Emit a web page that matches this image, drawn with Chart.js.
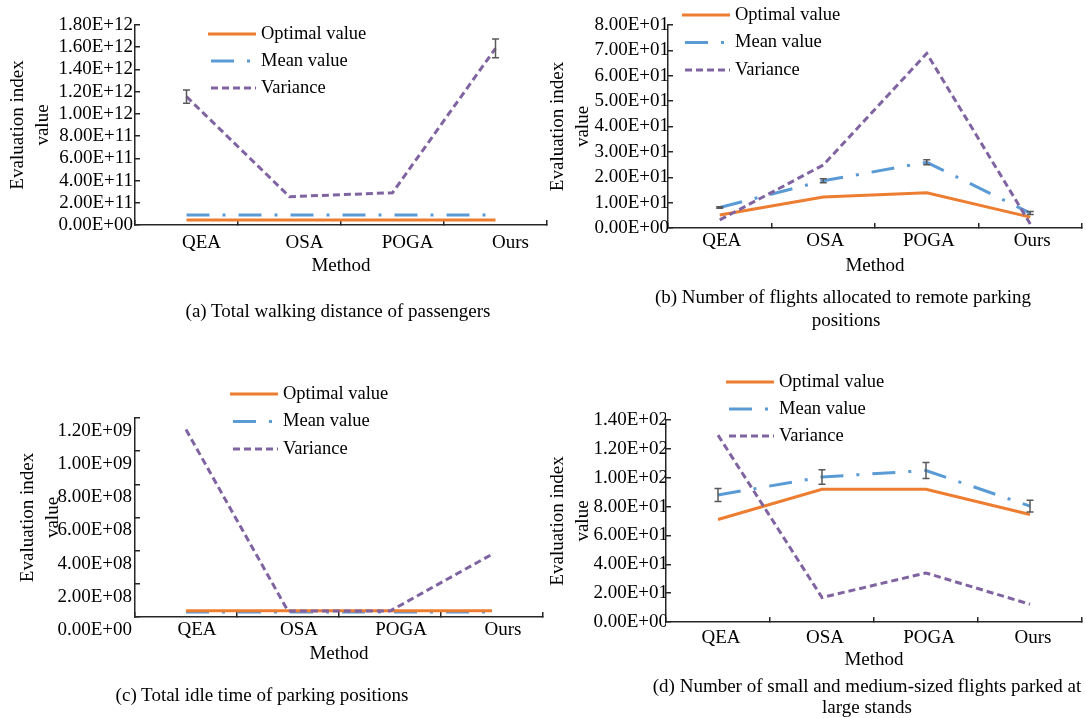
<!DOCTYPE html>
<html lang="en">

<head>
    <meta charset="UTF-8">
    <title>Evaluation index comparison</title>
    <script src="https://cdn.jsdelivr.net/npm/chart.js"></script>

    <style>
        body {
            margin: 0;
            background: #fff;
            width: 1086px;
            height: 718px;
            overflow: hidden;
            position: relative;
            font-family: 'Liberation Serif', 'Times New Roman', serif;
        }

        canvas {
            position: absolute;
            left: 0;
            top: 0;
        }

        .cap {
            position: absolute;
            font-size: 19px;
            white-space: nowrap;
            transform: translate(-50%, -50%);
            color: #000;
        }
    </style>
</head>

<body>
    <canvas id="chartA" width="1086" height="718"></canvas>
    <canvas id="chartB" width="1086" height="718"></canvas>
    <canvas id="chartC" width="1086" height="718"></canvas>
    <canvas id="chartD" width="1086" height="718"></canvas>

    <div class="cap" style="left:338px; top:311px">(a) Total walking distance of passengers</div>
    <div class="cap" style="left:843px; top:297px">(b) Number of flights allocated to remote parking</div>
    <div class="cap" style="left:846px; top:320px">positions</div>
    <div class="cap" style="left:262px; top:695px">(c) Total idle time of parking positions</div>
    <div class="cap" style="left:867px; top:686px">(d) Number of small and medium-sized flights parked at</div>
    <div class="cap" style="left:867px; top:707px">large stands</div>

    <script>
        const methods = ['QEA', 'OSA', 'POGA', 'Ours'];
        const seriesNames = ['Optimal value', 'Mean value', 'Variance'];

        // (a) total walking distance of passengers
        const optimalA = [4.5e10, 4.5e10, 4.5e10, 4.5e10];
        const meanA = [9.0e10, 9.0e10, 9.0e10, 9.0e10];
        const varianceA = [1.155e12, 2.55e11, 2.9e11, 1.59e12];
        const varErrA = [6e10, 0, 0, 8.5e10];
        const yTicksA = ['0.00E+00', '2.00E+11', '4.00E+11', '6.00E+11', '8.00E+11',
            '1.00E+12', '1.20E+12', '1.40E+12', '1.60E+12', '1.80E+12'];

        // (b) flights allocated to remote positions
        const optimalB = [5.1, 12.2, 13.9, 4.3];
        const meanB = [8.1, 18.6, 25.9, 5.9];
        const varianceB = [3.2, 24.8, 68.8, 1.6];
        const meanErrB = [0.3, 0.8, 1.0, 0.6];
        const yTicksB = ['0.00E+00', '1.00E+01', '2.00E+01', '3.00E+01', '4.00E+01',
            '5.00E+01', '6.00E+01', '7.00E+01', '8.00E+01'];

        // (c) idle time of parking positions
        const optimalC = [3.8e7, 3.8e7, 3.8e7, 3.8e7];
        const meanC = [3.0e7, 3.0e7, 3.0e7, 3.0e7];
        const varianceC = [1.13e9, 3.6e7, 3.6e7, 3.78e8];
        const yTicksC = ['0.00E+00', '2.00E+08', '4.00E+08', '6.00E+08', '8.00E+08',
            '1.00E+09', '1.20E+09'];

        // (d) small/medium flights at large stands
        const optimalD = [71, 92, 92, 74.5];
        const meanD = [88, 100.5, 105, 80.3];
        const varianceD = [129.5, 17, 34, 12.3];
        const meanErrD = [4.5, 5, 5.5, 4];
        const yTicksD = ['0.00E+00', '2.00E+01', '4.00E+01', '6.00E+01', '8.00E+01',
            '1.00E+02', '1.20E+02', '1.40E+02'];

        const axisColor = '#262626';
        Chart.defaults.font.family = "'Liberation Serif', 'Times New Roman', serif";
        Chart.defaults.font.size = 19;
        Chart.defaults.color = '#000';

        // legend drawn as line samples, like the office-style chart
        const lineLegend = {
            id: 'lineLegend',
            afterDraw(chart, args, opts) {
                const ctx = chart.ctx;
                ctx.save();
                chart.data.datasets.forEach((ds, i) => {
                    const y = opts.y + i * opts.row;
                    ctx.beginPath();
                    ctx.setLineDash(ds.borderDash || []);
                    ctx.strokeStyle = ds.borderColor;
                    ctx.lineWidth = ds.borderWidth;
                    ctx.moveTo(opts.x + (i ? 3 : 0), y);
                    ctx.lineTo(opts.x + 48, y);
                    ctx.stroke();
                    ctx.setLineDash([]);
                    ctx.fillStyle = '#000';
                    ctx.font = "18.5px 'Liberation Serif', serif";
                    ctx.textBaseline = 'middle';
                    ctx.fillText(ds.label, opts.x + 53, y);
                });
                ctx.restore();
            }
        };

        const errorBars = {
            id: 'errorBars',
            afterDatasetsDraw(chart) {
                const { ctx, scales: { x, y } } = chart;
                ctx.save();
                ctx.strokeStyle = '#595959';
                ctx.lineWidth = 1.5;
                chart.data.datasets.forEach(ds => {
                    if (!ds.errors) return;
                    ds.data.forEach((v, i) => {
                        const e = ds.errors[i];
                        if (!e) return;
                        const px = x.getPixelForValue(i);
                        const y1 = y.getPixelForValue(v - e);
                        const y2 = y.getPixelForValue(v + e);
                        ctx.beginPath();
                        ctx.moveTo(px, y1); ctx.lineTo(px, y2);
                        ctx.moveTo(px - 3.5, y1); ctx.lineTo(px + 3.5, y1);
                        ctx.moveTo(px - 3.5, y2); ctx.lineTo(px + 3.5, y2);
                        ctx.stroke();
                    });
                });
                ctx.restore();
            }
        };

        const makePanel = (id, p) => {
            const ctx = document.getElementById(id).getContext('2d');
            return new Chart(ctx, {
                type: 'line',
                data: {
                    labels: methods,
                    datasets: [{
                        label: seriesNames[0],
                        data: p.optimal,
                        borderColor: '#ED7D31',
                        borderWidth: 3,
                        order: 1
                    }, {
                        label: seriesNames[1],
                        data: p.mean,
                        borderColor: '#5B9BD5',
                        borderWidth: 3,
                        borderDash: [23, 13, 3, 13],
                        errors: p.meanErr,
                        order: 2
                    }, {
                        label: seriesNames[2],
                        data: p.variance,
                        borderColor: '#8064A2',
                        borderWidth: 3,
                        borderDash: [7, 4],
                        errors: p.varErr,
                        order: 0
                    }]
                },
                options: {
                    responsive: false,
                    animation: false,
                    elements: { point: { radius: 0 }, line: { tension: 0 } },
                    layout: { padding: p.pad },
                    plugins: {
                        legend: { display: false },
                        tooltip: { enabled: false },
                        lineLegend: p.legend
                    },
                    scales: {
                        x: {
                            offset: true,
                            grid: { offset: true, drawOnChartArea: false, tickLength: -5, color: axisColor, lineWidth: 1.5 },
                            border: { color: axisColor, width: 1.5 },
                            ticks: { padding: p.xPad, labelOffset: p.xLabelOffset, autoSkip: false, maxRotation: 0 },
                            title: { display: true, text: 'Method', padding: 0 },
                            afterFit: s => { s.height = p.xH; }
                        },
                        y: {
                            min: 0,
                            max: p.max,
                            grid: { drawOnChartArea: false, tickLength: -5, color: axisColor, lineWidth: 1.5 },
                            border: { color: axisColor, width: 1.5 },
                            ticks: {
                                stepSize: p.step,
                                autoSkip: false,
                                padding: p.yPad,
                                labelOffset: p.yLabelOffset,
                                callback: v => p.ticks[Math.round(v / p.step)]
                            },
                            title: {
                                display: true,
                                text: ['Evaluation index', 'value'],
                                font: { size: 19, lineHeight: 1.3 },
                                padding: { top: p.titlePad, bottom: 0 }
                            },
                            afterFit: s => { s.width = p.yW; }
                        }
                    }
                },
                plugins: [lineLegend, errorBars]
            });
        };

        makePanel('chartA', {
            optimal: optimalA, mean: meanA, variance: varianceA, varErr: varErrA,
            max: 1.8e12, step: 2e11, ticks: yTicksA,
            pad: { left: 0, top: 25, right: 539, bottom: 441 },
            yW: 135, xH: 52, yPad: 7, xPad: 12, xLabelOffset: 15, yLabelOffset: 0, titlePad: 6,
            legend: { x: 208, y: 34, row: 27 }
        });

        makePanel('chartB', {
            optimal: optimalB, mean: meanB, variance: varianceB, meanErr: meanErrB,
            max: 80, step: 10, ticks: yTicksB,
            pad: { left: 543, top: 25, right: 4, bottom: 441 },
            yW: 125, xH: 49, yPad: 4, xPad: 7, xLabelOffset: 2, yLabelOffset: 0, titlePad: 3,
            legend: { x: 682, y: 15, row: 27.5 }
        });

        makePanel('chartC', {
            optimal: optimalC, mean: meanC, variance: varianceC,
            max: 1.2e9, step: 2e8, ticks: yTicksC,
            pad: { left: 0, top: 418, right: 543, bottom: 53 },
            yW: 135, xH: 48, yPad: 8, xPad: 7, xLabelOffset: 11, yLabelOffset: 13, titlePad: 16,
            legend: { x: 230, y: 394, row: 27.5 }
        });

        makePanel('chartD', {
            optimal: optimalD, mean: meanD, variance: varianceD, meanErr: meanErrD,
            max: 140, step: 20, ticks: yTicksD,
            pad: { left: 543, top: 420, right: 4, bottom: 47 },
            yW: 123, xH: 49, yPad: 3, xPad: 10, xLabelOffset: 3, yLabelOffset: 0, titlePad: 3,
            legend: { x: 726, y: 382, row: 27 }
        });
    </script>
</body>

</html>
